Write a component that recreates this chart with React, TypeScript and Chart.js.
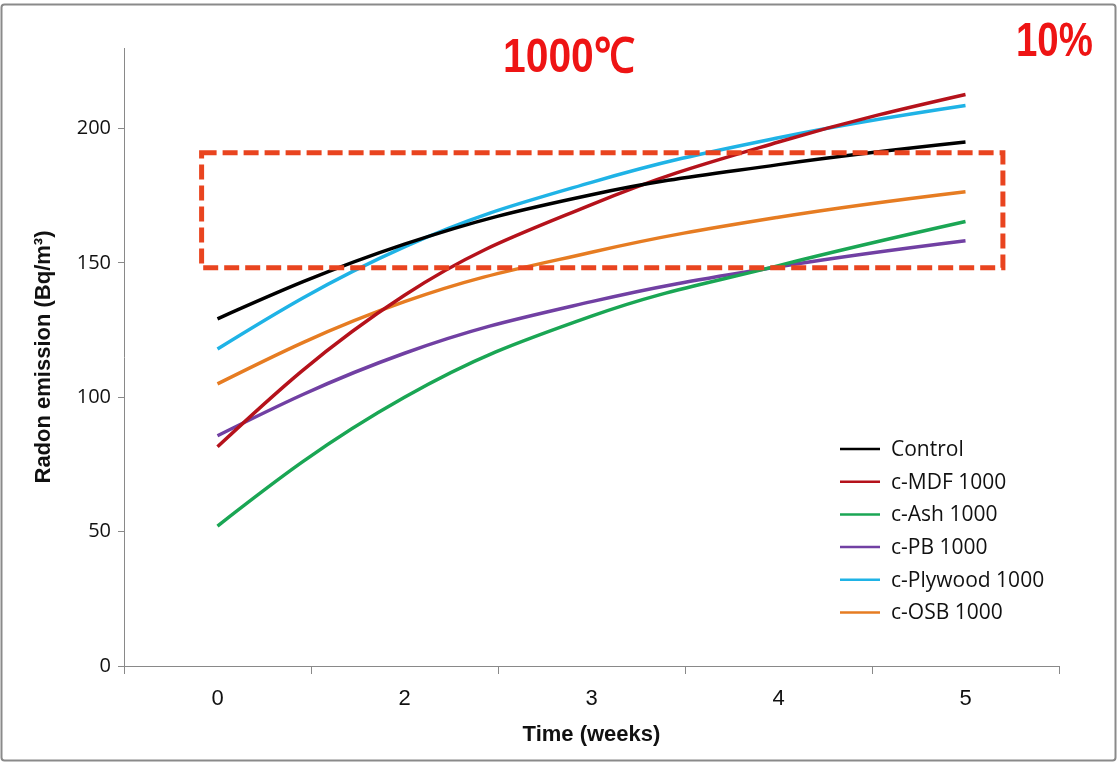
import React, { useEffect, useRef } from "react";
import { Chart, registerables } from "chart.js";

Chart.register(...registerables);

// ---- data ----
const weeks = ["0", "2", "3", "4", "5"];
const controlValues = [129.2, 157, 175.4, 186.6, 195];
const mdfValues = [81.6, 138, 171.7, 195, 212.7];
const ashValues = [52.1, 100, 130.2, 149, 165.4];
const pbValues = [85.7, 116.4, 135.6, 148.6, 158.3];
const plywoodValues = [118, 156, 180, 196.6, 208.6];
const osbValues = [105, 135.6, 154, 167, 176.5];

const seriesNames = ["Control", "c-MDF 1000", "c-Ash 1000", "c-PB 1000", "c-Plywood 1000", "c-OSB 1000"];
const seriesColors = ["#000000", "#b5121b", "#1aa654", "#7140a3", "#1fb3e6", "#e67c22"];

// highlighted band (value range) and its category extent
const highlightValues = [148.2, 191];
const highlightCategories = [-0.085, 4.2];

const yMax = 230;
const yStep = 50;

const annotations = ["1000℃", "10%"];

// Excel-like "natural" ends for the smoothed lines (zero curvature at the end points)
const naturalEnds = {
  id: "naturalEnds",
  beforeDatasetDraw(chart: any, args: any) {
    const meta = args.meta;
    const line = meta.dataset;
    if (!line || typeof line.updateControlPoints !== "function") return;
    line.updateControlPoints(chart.chartArea, meta.indexAxis);
    const pts = meta.data;
    const n = pts.length;
    if (n < 3) return;
    const p0 = pts[0];
    const p1 = pts[1];
    p0.cp2x = (p0.x + p1.cp1x) / 2;
    p0.cp2y = (p0.y + p1.cp1y) / 2;
    const pn = pts[n - 1];
    const pm = pts[n - 2];
    pn.cp1x = (pn.x + pm.cp2x) / 2;
    pn.cp1y = (pn.y + pm.cp2y) / 2;
    line._path = undefined;
  },
};

const App = () => {
  const ref = useRef<HTMLCanvasElement | null>(null);

  useEffect(() => {
    document.body.style.margin = "0";
    const canvas = ref.current;
    if (!canvas) return;

    const allSeries = [controlValues, mdfValues, ashValues, pbValues, plywoodValues, osbValues];

    const decor = {
      id: "decor",
      afterDraw(chart: any) {
        const ctx = chart.ctx;
        const xs = chart.scales.x;
        const ys = chart.scales.y;
        ctx.save();
        // outer border
        ctx.strokeStyle = "#8a8a8a";
        ctx.lineWidth = 2;
        ctx.beginPath();
        ctx.roundRect ? ctx.roundRect(1.5, 4.5, 1114, 756, 3) : ctx.rect(1.5, 4.5, 1114, 756);
        ctx.stroke();

        // dashed highlight box
        const x1 = xs.getPixelForValue(highlightCategories[0]);
        const x2 = xs.getPixelForValue(highlightCategories[1]);
        const y1 = ys.getPixelForValue(highlightValues[1]);
        const y2 = ys.getPixelForValue(highlightValues[0]);
        ctx.strokeStyle = "#e9441f";
        ctx.lineWidth = 5;
        ctx.setLineDash([15, 6]);
        ctx.lineCap = "butt";
        ctx.strokeRect(x1, y1, x2 - x1, y2 - y1);
        ctx.setLineDash([]);

        // red annotations
        ctx.fillStyle = "#ee1414";
        ctx.textBaseline = "alphabetic";
        ctx.textAlign = "left";
        ctx.font = 'bold 48px "Liberation Sans Narrow", "Liberation Sans", sans-serif';
        ctx.save();
        ctx.translate(503, 72);
        ctx.scale(0.85, 1);
        ctx.fillText(annotations[0], 0, 0);
        ctx.restore();
        ctx.save();
        ctx.translate(1016, 56);
        ctx.scale(0.8, 1);
        ctx.fillText(annotations[1], 0, 0);
        ctx.restore();

        // legend
        ctx.font = '21px "Open Sans", sans-serif';
        ctx.textBaseline = "middle";
        seriesNames.forEach((name, i) => {
          const y = 449 + i * 32.7;
          ctx.strokeStyle = seriesColors[i];
          ctx.lineWidth = 2.5;
          ctx.beginPath();
          ctx.moveTo(840, y);
          ctx.lineTo(880, y);
          ctx.stroke();
          ctx.fillStyle = "#111";
          ctx.fillText(name, 891, y + 1);
        });
        ctx.restore();
      },
    };

    const chart = new Chart(canvas, {
      type: "line",
      data: {
        labels: weeks,
        datasets: seriesNames.map((name, i) => ({
          label: name,
          data: allSeries[i],
          borderColor: seriesColors[i],
          backgroundColor: seriesColors[i],
          borderWidth: 3.5,
          pointRadius: 0,
          tension: 0.4,
          fill: false,
        })),
      },
      options: {
        responsive: false,
        animation: false,
        layout: { padding: { left: 0, top: 48, right: 59, bottom: 0 } },
        plugins: { legend: { display: false }, tooltip: { enabled: false } },
        scales: {
          x: {
            type: "category",
            offset: true,
            afterFit: (s: any) => { s.height = 97; },
            grid: { offset: true, drawOnChartArea: false, drawTicks: true, tickLength: 8, color: "#898989" },
            border: { color: "#898989", width: 1 },
            ticks: {
              color: "#111",
              padding: 12,
              maxRotation: 0,
              font: { family: '"Liberation Sans Narrow", "Liberation Sans", sans-serif', size: 22 },
            },
            title: {
              display: true,
              text: "Time (weeks)",
              color: "#111",
              padding: { top: 0, bottom: 15 },
              font: { family: '"Liberation Sans", sans-serif', size: 22, weight: "bold" },
            },
          },
          y: {
            min: 0,
            max: yMax,
            afterFit: (s: any) => { s.width = 124; },
            grid: { drawOnChartArea: false, drawTicks: true, tickLength: 6, color: "#898989" },
            border: { color: "#898989", width: 1 },
            ticks: {
              stepSize: yStep,
              includeBounds: false,
              color: "#111",
              padding: 7,
              font: { family: '"Open Sans", sans-serif', size: 20 },
            },
            title: {
              display: true,
              text: "Radon emission (Bq/m³)",
              color: "#111",
              padding: { top: 31, bottom: 0 },
              font: { family: '"Liberation Sans", sans-serif', size: 22, weight: "bold" },
            },
          },
        },
      },
      plugins: [naturalEnds, decor],
    } as any);

    return () => chart.destroy();
  }, []);

  return (
    <div style={{ width: 1118, height: 763, background: "#fff" }}>
      <canvas ref={ref} width={1118} height={763} style={{ display: "block" }} />
    </div>
  );
};

export default App;
